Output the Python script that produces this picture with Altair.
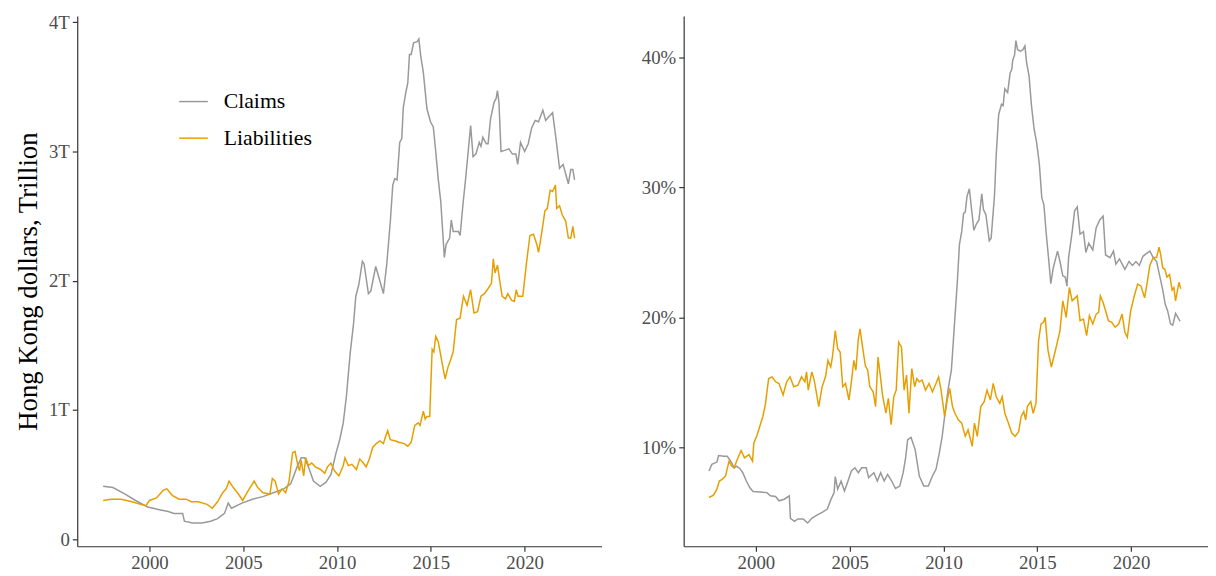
import altair as alt
import pandas as pd

SERIES = ["Claims", "Liabilities"]
COLORS = ["#999999", "#E69F00"]

# ---- Left panel: Hong Kong dollars, trillion ----
lc_year = [1997.53, 1998.05, 1998.7, 1999.26, 1999.9, 2000.47, 2001.0, 2001.3, 2001.77, 2001.86,
           2002.3, 2002.8, 2003.26, 2003.63, 2004.0, 2004.2, 2004.37, 2004.93, 2005.49, 2006.05,
           2006.6, 2007.16, 2007.53, 2007.87, 2008.09, 2008.28, 2008.47, 2008.74, 2009.1, 2009.4,
           2009.67, 2009.95, 2010.14, 2010.33, 2010.5, 2010.7, 2010.88, 2011.0, 2011.16, 2011.35,
           2011.44, 2011.67, 2011.8, 2012.06, 2012.28, 2012.47, 2012.65, 2012.84, 2012.97, 2013.08,
           2013.2, 2013.34, 2013.45, 2013.53, 2013.67, 2013.77, 2013.86, 2013.95, 2014.08, 2014.27,
           2014.36, 2014.46, 2014.6, 2014.79, 2014.98, 2015.13, 2015.26, 2015.39, 2015.53, 2015.72,
           2015.81, 2016.0, 2016.09, 2016.19, 2016.47, 2016.56, 2016.71, 2016.84, 2016.99, 2017.12,
           2017.25, 2017.4, 2017.58, 2017.67, 2017.77, 2017.95, 2018.05, 2018.18, 2018.37, 2018.48,
           2018.55, 2018.63, 2018.74, 2018.98, 2019.16, 2019.35, 2019.53, 2019.63, 2019.78, 2020.0,
           2020.19, 2020.37, 2020.56, 2020.74, 2020.97, 2021.12, 2021.3, 2021.49, 2021.67, 2021.86,
           2022.05, 2022.2, 2022.33, 2022.46, 2022.57, 2022.66]
lc_value = [0.41, 0.40, 0.35, 0.30, 0.25, 0.23, 0.215, 0.20, 0.20, 0.14,
            0.126, 0.126, 0.14, 0.16, 0.20, 0.28, 0.24, 0.28, 0.31, 0.33,
            0.36, 0.39, 0.43, 0.56, 0.63, 0.63, 0.56, 0.45, 0.41, 0.44,
            0.50, 0.67, 0.77, 0.90, 1.11, 1.44, 1.67, 1.88, 1.97, 2.15,
            2.13, 1.90, 1.92, 2.11, 2.00, 1.90, 2.13, 2.46, 2.74, 2.79,
            2.78, 3.07, 3.10, 3.34, 3.46, 3.53, 3.75, 3.75, 3.84, 3.85,
            3.87, 3.74, 3.61, 3.33, 3.23, 3.19, 3.00, 2.79, 2.61, 2.18,
            2.28, 2.33, 2.47, 2.38, 2.38, 2.35, 2.59, 2.77, 3.00, 3.20,
            2.96, 2.98, 3.07, 3.04, 3.11, 3.06, 3.06, 3.25, 3.38, 3.41,
            3.47, 3.38, 3.00, 3.01, 3.02, 2.98, 2.98, 2.90, 3.07, 3.00,
            3.06, 3.18, 3.24, 3.23, 3.32, 3.24, 3.27, 3.30, 3.10, 2.87,
            2.90, 2.82, 2.75, 2.86, 2.86, 2.78]

ll_year = [1997.53, 1997.95, 1998.5, 1999.07, 1999.53, 1999.81, 2000.0, 2000.37, 2000.74, 2000.93,
           2001.21, 2001.58, 2001.95, 2002.23, 2002.6, 2003.07, 2003.35, 2003.63, 2003.9, 2004.09,
           2004.24, 2004.47, 2004.74, 2004.97, 2005.2, 2005.58, 2005.77, 2006.05, 2006.42, 2006.55,
           2006.7, 2006.88, 2007.07, 2007.26, 2007.44, 2007.63, 2007.76, 2007.91, 2008.0, 2008.09,
           2008.22, 2008.33, 2008.47, 2008.65, 2008.84, 2009.12, 2009.34, 2009.49, 2009.67, 2009.86,
           2010.1, 2010.33, 2010.42, 2010.6, 2010.79, 2011.03, 2011.21, 2011.4, 2011.55, 2011.72,
           2011.9, 2012.09, 2012.28, 2012.47, 2012.6, 2012.7, 2012.84, 2013.12, 2013.3, 2013.58,
           2013.77, 2013.95, 2014.14, 2014.33, 2014.42, 2014.6, 2014.7, 2014.79, 2014.94, 2015.01,
           2015.07, 2015.16, 2015.26, 2015.39, 2015.53, 2015.63, 2015.76, 2015.91, 2016.06, 2016.19,
           2016.37, 2016.56, 2016.65, 2016.74, 2016.93, 2017.12, 2017.3, 2017.49, 2017.67, 2017.86,
           2018.05, 2018.23, 2018.33, 2018.42, 2018.55, 2018.67, 2018.8, 2018.98, 2019.1, 2019.3,
           2019.45, 2019.55, 2019.65, 2019.9, 2020.1, 2020.28, 2020.47, 2020.65, 2020.74, 2020.9,
           2021.08, 2021.21, 2021.36, 2021.49, 2021.64, 2021.71, 2021.86, 2022.0, 2022.19, 2022.33,
           2022.46, 2022.57, 2022.66]
ll_value = [0.30, 0.31, 0.31, 0.29, 0.27, 0.26, 0.30, 0.32, 0.38, 0.39,
            0.34, 0.31, 0.31, 0.29, 0.29, 0.27, 0.24, 0.29, 0.36, 0.39,
            0.45, 0.40, 0.35, 0.30, 0.36, 0.45, 0.40, 0.36, 0.35, 0.47,
            0.45, 0.35, 0.39, 0.36, 0.45, 0.67, 0.68, 0.57, 0.53, 0.61,
            0.49, 0.63, 0.57, 0.59, 0.56, 0.54, 0.51, 0.56, 0.59, 0.53,
            0.49, 0.57, 0.63, 0.57, 0.58, 0.54, 0.62, 0.59, 0.56, 0.62,
            0.71, 0.74, 0.76, 0.74, 0.80, 0.84, 0.77, 0.76, 0.75, 0.74,
            0.72, 0.75, 0.88, 0.90, 0.88, 0.99, 0.93, 0.95, 0.95, 1.24,
            1.47, 1.45, 1.57, 1.53, 1.42, 1.34, 1.24, 1.33, 1.39, 1.45,
            1.70, 1.71, 1.80, 1.88, 1.81, 1.93, 1.75, 1.76, 1.88, 1.90,
            1.94, 1.98, 2.17, 2.06, 2.12, 2.00, 1.88, 1.86, 1.90, 1.85,
            1.84, 1.93, 1.88, 1.88, 2.14, 2.35, 2.36, 2.28, 2.22, 2.36,
            2.54, 2.56, 2.70, 2.69, 2.74, 2.56, 2.58, 2.51, 2.46, 2.33,
            2.33, 2.42, 2.33]

# ---- Right panel: percent ----
rc_year = [1997.5, 1997.65, 1997.92, 1998.01, 1998.29, 1998.47, 1998.66, 1998.84, 1998.97, 1999.15,
           1999.3, 1999.49, 1999.67, 1999.85, 2000.22, 2000.59, 2000.77, 2001.05, 2001.23, 2001.51,
           2001.78, 2001.84, 2002.06, 2002.24, 2002.52, 2002.76, 2002.98, 2003.25, 2003.53, 2003.81,
           2003.99, 2004.17, 2004.23, 2004.36, 2004.54, 2004.72, 2004.91, 2005.09, 2005.28, 2005.46,
           2005.64, 2005.88, 2006.01, 2006.29, 2006.47, 2006.65, 2006.84, 2007.02, 2007.24, 2007.44,
           2007.67, 2007.85, 2007.98, 2008.09, 2008.27, 2008.49, 2008.71, 2008.95, 2009.19, 2009.41,
           2009.6, 2009.78, 2009.93, 2010.06, 2010.24, 2010.42, 2010.61, 2010.74, 2010.85, 2010.97,
           2011.07, 2011.16, 2011.25, 2011.38, 2011.49, 2011.62, 2011.76, 2011.89, 2012.04, 2012.13,
           2012.26, 2012.44, 2012.54, 2012.72, 2012.81, 2012.94, 2013.09, 2013.18, 2013.27, 2013.42,
           2013.55, 2013.64, 2013.69, 2013.79, 2013.86, 2013.95, 2014.1, 2014.23, 2014.34, 2014.43,
           2014.56, 2014.69, 2014.83, 2014.96, 2015.11, 2015.24, 2015.35, 2015.48, 2015.63, 2015.72,
           2015.85, 2015.99, 2016.08, 2016.21, 2016.36, 2016.49, 2016.58, 2016.67, 2016.86, 2016.99,
           2017.13, 2017.28, 2017.46, 2017.59, 2017.74, 2017.96, 2018.14, 2018.33, 2018.51, 2018.64,
           2018.88, 2019.06, 2019.19, 2019.38, 2019.67, 2019.89, 2020.07, 2020.26, 2020.44, 2020.63,
           2020.81, 2021.0, 2021.18, 2021.36, 2021.54, 2021.69, 2021.82, 2021.95, 2022.1, 2022.22,
           2022.37, 2022.46, 2022.61]
rc_value = [8.17, 8.68, 8.86, 9.36, 9.31, 9.31, 8.93, 8.42, 8.55, 8.35,
            8.04, 7.40, 6.90, 6.59, 6.56, 6.51, 6.26, 6.21, 5.88, 6.00,
            6.26, 4.53, 4.30, 4.48, 4.48, 4.17, 4.53, 4.78, 4.99, 5.24,
            5.95, 6.51, 7.74, 6.77, 7.40, 6.64, 7.40, 8.17, 8.42, 8.04,
            8.42, 8.42, 7.66, 8.04, 7.40, 8.04, 7.40, 7.91, 7.40, 6.82,
            7.02, 8.04, 9.19, 10.59, 10.76, 9.82, 7.79, 7.02, 7.02, 7.79,
            8.30, 9.57, 10.84, 12.37, 14.40, 15.93, 20.0, 22.8, 25.6, 26.6,
            28.0, 28.1, 29.3, 29.9, 28.4, 26.7, 27.2, 27.5, 29.5, 28.3,
            27.9, 25.9, 26.1, 29.4, 32.5, 35.6, 36.4, 36.3, 37.6, 37.3,
            38.8, 39.1, 39.8, 40.2, 41.3, 40.6, 40.5, 40.6, 40.9, 39.6,
            38.6, 36.3, 34.5, 33.5, 31.8, 29.2, 28.7, 26.4, 24.1, 22.6,
            23.8, 24.6, 25.1, 24.3, 23.2, 23.1, 22.4, 24.6, 26.6, 28.2,
            28.5, 26.4, 26.6, 25.0, 25.7, 25.2, 26.9, 27.5, 27.8, 24.8,
            24.6, 25.1, 24.1, 24.5, 23.7, 24.3, 24.0, 24.3, 24.0, 24.7,
            24.9, 25.1, 24.6, 24.3, 23.1, 22.1, 21.0, 20.5, 19.5, 19.4,
            20.3, 20.1, 19.7]

rl_year = [1997.5, 1997.74, 1997.92, 1998.05, 1998.2, 1998.38, 1998.57, 1998.71, 1998.84, 1998.97,
           1999.21, 1999.39, 1999.63, 1999.82, 1999.89, 2000.04, 2000.18, 2000.37, 2000.5, 2000.68,
           2000.86, 2001.05, 2001.23, 2001.45, 2001.64, 2001.82, 2002.02, 2002.24, 2002.43, 2002.61,
           2002.7, 2002.79, 2002.98, 2003.11, 2003.35, 2003.53, 2003.71, 2003.84, 2003.99, 2004.08,
           2004.23, 2004.36, 2004.49, 2004.63, 2004.78, 2004.96, 2005.09, 2005.22, 2005.33, 2005.46,
           2005.55, 2005.7, 2005.83, 2005.96, 2006.07, 2006.25, 2006.38, 2006.51, 2006.62, 2006.75,
           2006.93, 2007.06, 2007.21, 2007.35, 2007.48, 2007.61, 2007.76, 2007.9, 2008.03, 2008.16,
           2008.31, 2008.46, 2008.58, 2008.71, 2008.86, 2009.04, 2009.23, 2009.41, 2009.6, 2009.74,
           2009.87, 2010.06, 2010.2, 2010.33, 2010.48, 2010.61, 2010.79, 2010.97, 2011.16, 2011.31,
           2011.53, 2011.65, 2011.8, 2011.99, 2012.17, 2012.32, 2012.5, 2012.65, 2012.81, 2013.0,
           2013.13, 2013.27, 2013.46, 2013.64, 2013.82, 2014.01, 2014.14, 2014.28, 2014.38, 2014.47,
           2014.65, 2014.78, 2014.93, 2015.07, 2015.2, 2015.33, 2015.42, 2015.57, 2015.75, 2015.88,
           2016.03, 2016.21, 2016.36, 2016.54, 2016.71, 2016.86, 2017.13, 2017.28, 2017.46, 2017.63,
           2017.78, 2017.96, 2018.14, 2018.27, 2018.36, 2018.51, 2018.64, 2018.79, 2018.97, 2019.15,
           2019.34, 2019.52, 2019.67, 2019.8, 2019.98, 2020.17, 2020.35, 2020.53, 2020.72, 2020.85,
           2021.0, 2021.18, 2021.36, 2021.49, 2021.58, 2021.69, 2021.8, 2021.91, 2022.05, 2022.19,
           2022.28, 2022.37, 2022.55, 2022.65]
rl_value = [6.13, 6.31, 6.77, 7.40, 7.53, 7.79, 8.93, 8.55, 8.42, 8.93,
            9.75, 9.19, 9.44, 8.93, 10.33, 10.84, 11.48, 12.37, 13.26, 15.29,
            15.42, 15.04, 14.91, 14.02, 15.04, 15.42, 14.66, 14.78, 15.42, 15.04,
            15.80, 14.40, 15.80, 15.17, 13.13, 14.66, 15.42, 16.69, 16.18, 16.95,
            18.98, 17.58, 17.33, 14.66, 14.91, 13.64, 15.04, 16.69, 15.93, 18.35,
            19.11, 17.58, 16.31, 15.93, 14.66, 14.27, 13.13, 16.95, 15.67, 14.02,
            12.62, 13.77, 11.73, 13.89, 14.40, 18.09, 17.71, 14.40, 15.55, 12.62,
            16.06, 14.66, 15.29, 15.04, 15.17, 14.40, 14.91, 14.27, 14.91, 15.42,
            14.40, 12.37, 13.64, 14.53, 13.13, 12.62, 12.11, 11.86, 10.84, 11.35,
            10.08, 11.86, 10.84, 13.13, 13.51, 14.40, 13.64, 14.91, 13.89, 13.38,
            13.89, 12.62, 11.86, 11.09, 10.84, 11.22, 12.37, 12.75, 12.11, 13.13,
            13.51, 12.62, 13.38, 18.22, 19.49, 19.62, 20.0, 17.46, 16.18, 16.95,
            17.84, 18.98, 21.27, 20.0, 22.3, 21.27, 21.65, 19.75, 19.87, 18.6,
            20.13, 19.49, 20.25, 20.38, 21.65, 21.15, 20.51, 19.75, 19.62, 19.24,
            19.49, 20.25, 18.85, 18.47, 20.51, 21.65, 22.56, 22.4, 21.5, 22.6,
            24.0, 24.6, 24.6, 25.4, 24.8, 23.8, 23.7, 23.1, 23.3, 22.1,
            22.3, 21.27, 22.7, 22.2]

left_ticks_x = [2000, 2005, 2010, 2015, 2020]
left_ticks_y = [0, 1, 2, 3, 4]
right_ticks_y = [10, 20, 30, 40]

FONT = "Liberation Serif"


def frame(c_year, c_val, l_year, l_val):
    a = pd.DataFrame({"year": c_year, "value": c_val, "series": SERIES[0]})
    b = pd.DataFrame({"year": l_year, "value": l_val, "series": SERIES[1]})
    return pd.concat([a, b], ignore_index=True)


left_df = frame(lc_year, lc_value, ll_year, ll_value)
right_df = frame(rc_year, rc_value, rl_year, rl_value)

x_scale = alt.Scale(domain=[1996.15, 2024.1], nice=False, zero=False)
color = alt.Color(
    "series:N",
    scale=alt.Scale(domain=SERIES, range=COLORS),
    legend=alt.Legend(
        title=None, orient="none", legendX=102, legendY=71,
        symbolType="stroke", symbolSize=841, symbolStrokeWidth=1.5,
        labelFont=FONT, labelFontSize=22, labelColor="#000000",
        labelOffset=15, rowPadding=10, padding=0,
    ),
)

x_enc = alt.X("year:Q", scale=x_scale,
              axis=alt.Axis(title=None, values=left_ticks_x, format="d"))

left = alt.Chart(left_df).mark_line(strokeWidth=1.5).encode(
    x=x_enc,
    y=alt.Y("value:Q",
            scale=alt.Scale(domain=[-0.054, 4.048], nice=False, zero=False),
            axis=alt.Axis(title="Hong Kong dollars, Trillion", values=left_ticks_y,
                          labelExpr="datum.value == 0 ? '0' : datum.value + 'T'",
                          titlePadding=6)),
    color=color,
    order="year:Q",
).properties(width=530, height=536)

right = alt.Chart(right_df).mark_line(strokeWidth=1.5).encode(
    x=x_enc,
    y=alt.Y("value:Q",
            scale=alt.Scale(domain=[2.38, 43.2], nice=False, zero=False),
            axis=alt.Axis(title=None, values=right_ticks_y,
                          labelExpr="datum.value + '%'")),
    color=color,
    order="year:Q",
).properties(width=530, height=536)

chart = alt.hconcat(left, right, spacing=40).properties(
    padding={"left": 6, "top": 2, "right": 0, "bottom": 0}
).configure_view(
    stroke=None
).configure_axis(
    grid=False,
    domainColor="#333333", domainWidth=1.2,
    tickColor="#333333", tickSize=5, tickWidth=1.2,
    labelFont=FONT, labelFontSize=19, labelColor="#4d4d4d", labelPadding=3,
    titleFont=FONT, titleFontSize=27, titleFontWeight="normal", titleColor="#000000",
)

chart.save("out.html", embed_options={"renderer": "svg", "actions": False})
